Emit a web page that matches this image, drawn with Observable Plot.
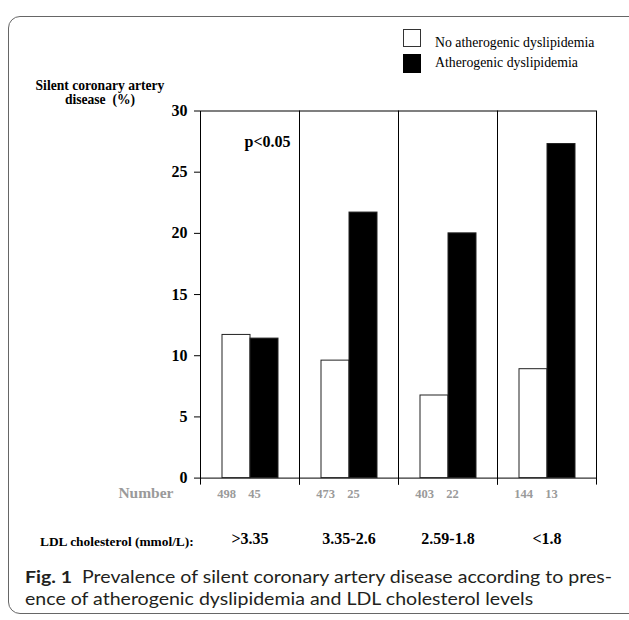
<!DOCTYPE html>
<html>
<head>
<meta charset="utf-8">
<script src="https://cdn.jsdelivr.net/npm/d3@7"></script>
<script src="https://cdn.jsdelivr.net/npm/@observablehq/plot@0.6"></script>
<style>
  html, body { margin: 0; padding: 0; background: white; }
  #wrap { position: relative; width: 629px; height: 620px; overflow: hidden; background: white; }
  #chart { position: absolute; left: 0; top: 0; }
  .abs { position: absolute; white-space: nowrap; }
  .serif { font-family: "Liberation Serif", "Times New Roman", serif; }
  #border { position: absolute; left: 8px; top: 16px; width: 640px; height: 596px; border: 1px solid #666; border-radius: 12px; pointer-events: none; z-index: 5; }
  .sw { position: absolute; left: 403px; width: 18px; box-sizing: border-box; }
  .cap { position: absolute; left: 25px; font-family: Lato, "Open Sans", sans-serif; font-size: 17.5px; color: #231f20; white-space: nowrap; transform-origin: 0 50%; line-height: 21px; }
</style>
</head>
<body>
<div id="wrap">
  <div id="chart"></div>
  <div id="border"></div>
  <div class="sw" style="top:29px;height:18px;border:1px solid #333;background:white;"></div>
  <div class="sw" style="top:54px;height:19px;background:black;"></div>
  <div class="abs serif" id="leg1" style="left:435px;top:35px;font-size:13.8px;line-height:16px;"></div>
  <div class="abs serif" id="leg2" style="left:435px;top:55px;font-size:13.8px;line-height:16px;"></div>
  <div class="abs serif" id="ylab" style="left:25px;width:150px;top:79px;font-size:13.6px;line-height:14px;font-weight:bold;text-align:center;white-space:normal;"></div>
  <div class="abs serif" id="ldl" style="left:40px;top:534px;font-size:13.4px;line-height:16px;font-weight:bold;"></div>
  <div class="cap" id="cap1" style="top:566px;"><b>Fig. 1</b>&nbsp;&nbsp;Prevalence of silent coronary artery disease according to pres-</div>
  <div class="cap" id="cap2" style="top:588px;">ence of atherogenic dyslipidemia and LDL cholesterol levels</div>
</div>
<script>
// ---- data ----
const groups = [">3.35", "3.35-2.6", "2.59-1.8", "<1.8"];
const series = ["No atherogenic dyslipidemia", "Atherogenic dyslipidemia"];
const noDyslipidemia = [11.7, 9.6, 6.75, 8.9];
const dyslipidemia = [11.4, 21.7, 20.0, 27.3];
const nNoDyslipidemia = [498, 473, 403, 144];
const nDyslipidemia = [45, 25, 22, 13];
const yTicks = [0, 5, 10, 15, 20, 25, 30];
const xLabel = "LDL cholesterol (mmol/L):";
const numberLabel = "Number";
const pLabel = "p<0.05";

const rows = groups.flatMap((g, i) => [
  {group: g, series: series[0], value: noDyslipidemia[i], n: nNoDyslipidemia[i]},
  {group: g, series: series[1], value: dyslipidemia[i], n: nDyslipidemia[i]}
]);

document.getElementById("leg1").textContent = series[0];
document.getElementById("leg2").textContent = series[1];
document.getElementById("ylab").innerHTML = "Silent coronary artery<br>disease&nbsp;&nbsp;(%)";
document.getElementById("ldl").textContent = xLabel;

const H = 560, mTop = 110.5, mBottom = 82.4;
const innerH = H - mTop - mBottom;

const chart = Plot.plot({
  width: 629,
  height: H,
  marginTop: mTop,
  marginBottom: mBottom,
  marginLeft: 200,
  marginRight: 33,
  style: {fontFamily: "Liberation Serif, Times New Roman, serif", fontSize: "16px", fontWeight: "bold", color: "black", background: "transparent"},
  fx: {domain: groups, padding: 0, axis: null},
  x: {domain: series, paddingInner: 0, paddingOuter: 0.725, axis: null},
  y: {domain: [0, 30], ticks: yTicks, tickSize: 6, tickPadding: 7, label: null},
  color: {domain: series, range: ["white", "black"]},
  marks: [
    Plot.frame({stroke: "black", strokeWidth: 1}),
    Plot.frame({anchor: "left", insetTop: innerH, insetBottom: -6, stroke: "black"}),
    Plot.frame({anchor: "right", insetTop: innerH, insetBottom: -6, stroke: "black"}),
    Plot.barY(rows, {fx: "group", x: "series", y: "value", fill: "series", stroke: "#222", strokeWidth: 1}),
    Plot.text(rows, {fx: "group", x: "series", text: "n", frameAnchor: "bottom", dy: 19.5, dx: -10, fill: "#9a9a9a", fontSize: 12.5, fontWeight: "bold"}),
    Plot.text(groups, {fx: d => d, text: d => d, frameAnchor: "bottom", dy: 65.5, fontSize: 16, fontWeight: "bold", fill: "black"}),
    Plot.text([groups[0]], {fx: d => d, text: () => pLabel, frameAnchor: "top-left", dx: 44, dy: 24.5, fontSize: 16, fontWeight: "bold", fill: "black"}),
    Plot.text([groups[0]], {fx: d => d, text: () => numberLabel, frameAnchor: "bottom-left", dx: -27, dy: 19.5, textAnchor: "end", fontSize: 15.5, fontWeight: "bold", fill: "#9a9a9a"})
  ]
});
document.getElementById("chart").appendChild(chart);

// fit caption width to the reference's condensed face
const c1 = document.getElementById("cap1"), c2 = document.getElementById("cap2");
const w1 = c1.getBoundingClientRect().width;
const s = 587 / w1;
c1.style.transform = `scaleX(${s})`;
c2.style.transform = `scaleX(${s})`;
</script>
</body>
</html>
